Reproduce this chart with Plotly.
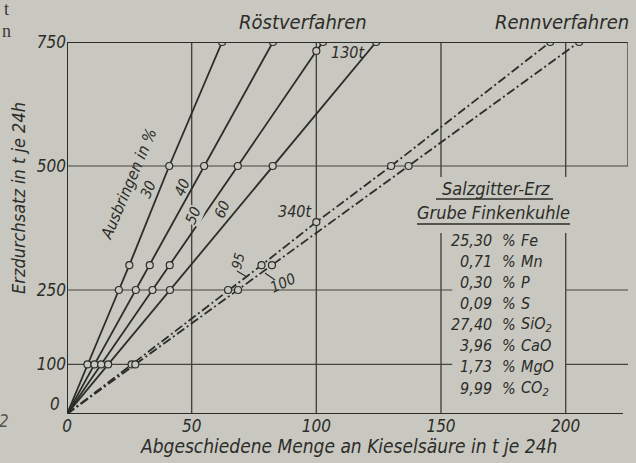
import plotly.graph_objects as go

# ---------------- data ----------------
X_TICKS = [0, 50, 100, 150, 200]
Y_TICKS = [100, 250, 500, 750]
GRID_X = [50, 100, 150, 200]
GRID_Y = [100, 250, 500]

# Röstverfahren (Ausbringen in %)
roest30_x = [0, 8.2, 20.8, 25.0, 41.0, 62.2]
roest30_y = [0, 100, 250, 300, 500, 750]
roest40_x = [0, 11.0, 27.6, 33.2, 55.0, 82.6]
roest40_y = [0, 100, 250, 300, 500, 750]
roest50_x = [0, 13.7, 34.3, 41.2, 68.5, 100.0, 102.7]
roest50_y = [0, 100, 250, 300, 500, 732, 750]
roest60_x = [0, 16.5, 41.3, 82.5, 124.0]
roest60_y = [0, 100, 250, 500, 750]

# Rennverfahren (95 / 100)
renn95_x = [0, 25.9, 64.6, 78.0, 100.0, 130.0, 193.8]
renn95_y = [0, 100, 250, 300, 387, 500, 750]
renn100_x = [0, 27.4, 68.6, 82.2, 137.0, 205.4]
renn100_y = [0, 100, 250, 300, 500, 750]

ROEST_NAMES = ["30", "40", "50", "60"]
RENN_NAMES = ["95", "100"]

ore_values = ["25,30", "0,71", "0,30", "0,09", "27,40", "3,96", "1,73", "9,99"]
ore_elements = ["Fe", "Mn", "P", "S", "SiO<sub>2</sub>", "CaO", "MgO", "CO<sub>2</sub>"]

# ---------------- style ----------------
BG = "#c8c8c0"
INK = "#2c2c29"
GRID = "#45453f"
FONT = "Liberation Sans Narrow, Arial Narrow, DejaVu Sans Condensed, sans-serif"

L, R, T, B = 67, 8, 42, 49
W, H = 636, 463
PW, PH = W - L - R, H - T - B


def P(px, py):
    return (px - L) / PW, (H - B - py) / PH


fig = go.Figure()

roest = [(roest30_x, roest30_y), (roest40_x, roest40_y),
         (roest50_x, roest50_y), (roest60_x, roest60_y)]
renn = [(renn95_x, renn95_y), (renn100_x, renn100_y)]

for name, (xs, ys) in zip(ROEST_NAMES, roest):
    fig.add_trace(go.Scatter(
        x=xs, y=ys, mode="lines", name=name,
        line=dict(color=INK, width=1.8),
        showlegend=False, hoverinfo="skip"))
    fig.add_trace(go.Scatter(
        x=xs[1:], y=ys[1:], mode="markers", name=name,
        marker=dict(symbol="circle", size=7, color=BG, line=dict(color=INK, width=1.2)),
        showlegend=False, hoverinfo="skip"))

for name, (xs, ys) in zip(RENN_NAMES, renn):
    fig.add_trace(go.Scatter(
        x=xs, y=ys, mode="lines", name=name,
        line=dict(color=INK, width=1.8, dash="9px,3px,2px,3px"),
        showlegend=False, hoverinfo="skip"))
    fig.add_trace(go.Scatter(
        x=xs[1:], y=ys[1:], mode="markers", name=name,
        marker=dict(symbol="circle", size=7, color=BG, line=dict(color=INK, width=1.2)),
        showlegend=False, hoverinfo="skip"))

XMAX, YMAX = 225, 750
shapes = []
for gx in GRID_X:
    if gx >= 150:
        shapes.append(dict(type="line", xref="x", yref="y", x0=gx, x1=gx, y0=0, y1=365,
                           line=dict(color=GRID, width=1.4), layer="below"))
        shapes.append(dict(type="line", xref="x", yref="y", x0=gx, x1=gx, y0=478, y1=YMAX,
                           line=dict(color=GRID, width=1.4), layer="below"))
    else:
        shapes.append(dict(type="line", xref="x", yref="y", x0=gx, x1=gx, y0=0, y1=YMAX,
                           line=dict(color=GRID, width=1.4), layer="below"))
for gy in GRID_Y:
    if gy == 500:
        shapes.append(dict(type="line", xref="x", yref="y", x0=0, x1=XMAX, y0=gy, y1=gy,
                           line=dict(color=GRID, width=1.2), layer="below"))
    else:
        shapes.append(dict(type="line", xref="x", yref="y", x0=0, x1=154.5, y0=gy, y1=gy,
                           line=dict(color=GRID, width=1.2), layer="below"))
        shapes.append(dict(type="line", xref="x", yref="y", x0=200, x1=XMAX, y0=gy, y1=gy,
                           line=dict(color=GRID, width=1.2), layer="below"))
shapes.append(dict(type="line", xref="x", yref="y", x0=0, x1=XMAX, y0=YMAX, y1=YMAX,
                   line=dict(color=INK, width=2)))
shapes.append(dict(type="line", xref="x", yref="y", x0=0, x1=0, y0=0, y1=YMAX,
                   line=dict(color=INK, width=2)))
shapes.append(dict(type="line", xref="x", yref="y", x0=0, x1=223, y0=0, y1=0,
                   line=dict(color=INK, width=2)))
shapes.append(dict(type="line", xref="x", yref="y", x0=XMAX, x1=XMAX, y0=500, y1=YMAX,
                   line=dict(color=GRID, width=1.4)))

for (x0, x1, y) in [(436, 553, 199), (417, 570, 224)]:
    a, b_ = P(x0, y)
    c, _ = P(x1, y)
    shapes.append(dict(type="line", xref="paper", yref="paper", x0=a, x1=c, y0=b_, y1=b_,
                       line=dict(color=INK, width=1.6)))
for (x0, y0, x1, y1) in [(237, 271, 247, 277), (265, 273, 275, 280)]:
    a, b_ = P(x0, y0)
    c, d = P(x1, y1)
    shapes.append(dict(type="line", xref="paper", yref="paper", x0=a, x1=c, y0=b_, y1=d,
                       line=dict(color=INK, width=1.1)))

ann = []


def txt(text, px, py, size, angle=0, xanchor="center", bg=None, family=FONT, style="italic",
        color=INK):
    x, y = P(px, py)
    d = dict(text=text, x=x, y=y, xref="paper", yref="paper", showarrow=False,
             xanchor=xanchor, yanchor="middle", textangle=angle,
             font=dict(family=family, size=size, color=color, style=style))
    if bg:
        d["bgcolor"] = bg
        d["borderpad"] = 0
    ann.append(d)


txt("Röstverfahren", 303, 22, 20)
txt("Rennverfahren", 562, 22, 20)
txt("Abgeschiedene Menge an Kieselsäure in t je 24h", 348, 446, 19)
txt("Erzdurchsatz in t je 24h", 19, 198, 18, angle=-90)
txt("0", 55, 404, 17)

txt("Ausbringen in %", 128, 184, 16, angle=-67)
for lab, (px, py) in zip(ROEST_NAMES, [(148, 190), (182, 188), (193, 216), (222, 210)]):
    txt(lab, px, py, 15, angle=-67, bg=BG if lab == "50" else None)
txt("95", 238, 261, 14, angle=-75)
txt("100", 283, 283, 15, angle=-25)
txt("340t", 295, 211, 16)
txt("130t", 348, 53, 16)

txt("Salzgitter-Erz", 496, 188, 18)
txt("Grube Finkenkuhle", 493, 212, 18)
row_y = [240, 261, 282, 303, 324, 345, 366, 388]
for v, e, ry in zip(ore_values, ore_elements, row_y):
    txt(v, 494, ry, 16, xanchor="right")
    txt("%", 509, ry, 16)
    txt(e, 519, ry, 16, xanchor="left")

txt("t", 6, 9, 18, family="Liberation Serif", style="normal", color="#3a3a36")
txt("n", 6, 31, 18, family="Liberation Serif", style="normal", color="#3a3a36")
txt("2", 4, 421, 17, color="#55554f")

fig.update_layout(
    width=W, height=H,
    margin=dict(l=L, r=R, t=T, b=B, pad=0),
    paper_bgcolor=BG, plot_bgcolor=BG,
    shapes=shapes, annotations=ann,
    xaxis=dict(range=[0, XMAX], tickvals=X_TICKS, ticktext=[str(v) for v in X_TICKS],
               showgrid=False, zeroline=False, showline=False, ticks="", automargin=False,
               tickfont=dict(family=FONT, size=17, color=INK, style="italic"), fixedrange=True),
    yaxis=dict(range=[0, YMAX], tickvals=Y_TICKS, ticktext=[str(v) for v in Y_TICKS],
               showgrid=False, zeroline=False, showline=False, ticks="", automargin=False,
               tickfont=dict(family=FONT, size=17, color=INK, style="italic"), fixedrange=True),
)

fig.write_html("out.html", config={"displayModeBar": False},
               post_script="document.body.style.margin='0';document.body.style.background='" + BG + "';")
